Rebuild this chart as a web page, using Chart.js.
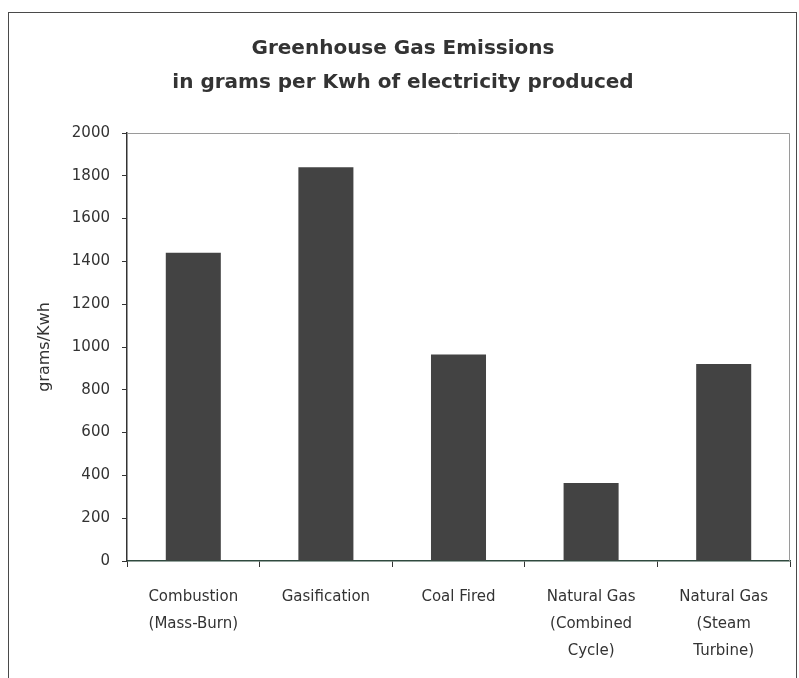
<!DOCTYPE html>
<html>
<head>
<meta charset="utf-8">
<script src="https://cdn.jsdelivr.net/npm/chart.js@4.4.1/dist/chart.umd.min.js"></script>
<style>
  html, body { margin: 0; padding: 0; background: #ffffff; }
  #wrap { position: relative; width: 799px; height: 678px; overflow: hidden; }
  #frame { position: absolute; left: 8px; top: 12px; width: 789px; height: 700px; border: 1px solid #4a4a4a; box-sizing: border-box; }
  #c { position: absolute; left: 0; top: 0; }
</style>
</head>
<body>
<div id="wrap">
  <div id="frame"></div>
  <canvas id="c" width="799" height="678"></canvas>
</div>
<script>
// ---- data ----
const categories = [
  ["Combustion", "(Mass-Burn)"],
  ["Gasification"],
  ["Coal Fired"],
  ["Natural Gas", "(Combined", "Cycle)"],
  ["Natural Gas", "(Steam", "Turbine)"]
];
const emissions = [1440, 1840, 965, 365, 920];
const yMin = 0;
const yMax = 2000;
const yStep = 200;
const titleLines = ["Greenhouse Gas Emissions", "in grams per Kwh of electricity produced"];
const yTitle = "grams/Kwh";

const FONT = "'DejaVu Sans', 'Liberation Sans', sans-serif";
const TEXT = "#333333";

const plotBorder = {
  id: 'plotBorder',
  beforeDatasetsDraw(chart) {
    const {ctx, chartArea: a} = chart;
    ctx.save();
    ctx.strokeStyle = '#9a9a9a';
    ctx.lineWidth = 1;
    ctx.beginPath();
    ctx.moveTo(a.left, a.top + 0.5);
    ctx.lineTo(a.right - 0.5, a.top + 0.5);
    ctx.lineTo(a.right - 0.5, a.bottom);
    ctx.stroke();
    ctx.restore();
  }
};

new Chart(document.getElementById('c'), {
  type: 'bar',
  data: {
    labels: categories,
    datasets: [{
      data: emissions,
      backgroundColor: '#434343',
      borderWidth: 0,
      barPercentage: 0.415,
      categoryPercentage: 1.0
    }]
  },
  options: {
    responsive: false,
    animation: false,
    devicePixelRatio: 1,
    layout: { padding: { left: 16, right: 9, top: 12, bottom: 0 } },
    plugins: {
      legend: { display: false },
      tooltip: { enabled: false },
      title: {
        display: true,
        text: titleLines,
        color: TEXT,
        font: { family: FONT, size: 20, weight: 'bold', lineHeight: '34px' },
        padding: { top: 20, bottom: 33 }
      }
    },
    scales: {
      x: {
        offset: true,
        afterFit(scale) { scale.height = 117; },
        grid: {
          display: true,
          offset: true,
          drawOnChartArea: false,
          drawTicks: true,
          tickLength: 6,
          color: '#333333'
        },
        border: { display: true, color: '#2f4a3f', width: 1.5 },
        ticks: {
          color: TEXT,
          maxRotation: 0,
          autoSkip: false,
          padding: 17,
          font: { family: FONT, size: 15, lineHeight: '27px' }
        }
      },
      y: {
        min: yMin,
        max: yMax,
        afterFit(scale) { scale.width = 111; },
        grid: {
          display: true,
          drawOnChartArea: false,
          drawTicks: true,
          tickLength: 5,
          color: '#333333'
        },
        border: { display: true, color: '#333333', width: 1.5 },
        ticks: {
          stepSize: yStep,
          color: TEXT,
          padding: 12,
          font: { family: FONT, size: 15 },
          callback: (v) => String(v)
        },
        title: {
          display: true,
          text: yTitle,
          color: TEXT,
          padding: { top: 19, bottom: 0 },
          font: { family: FONT, size: 16, lineHeight: 1.2 }
        }
      }
    }
  },
  plugins: [plotBorder]
});
</script>
</body>
</html>
